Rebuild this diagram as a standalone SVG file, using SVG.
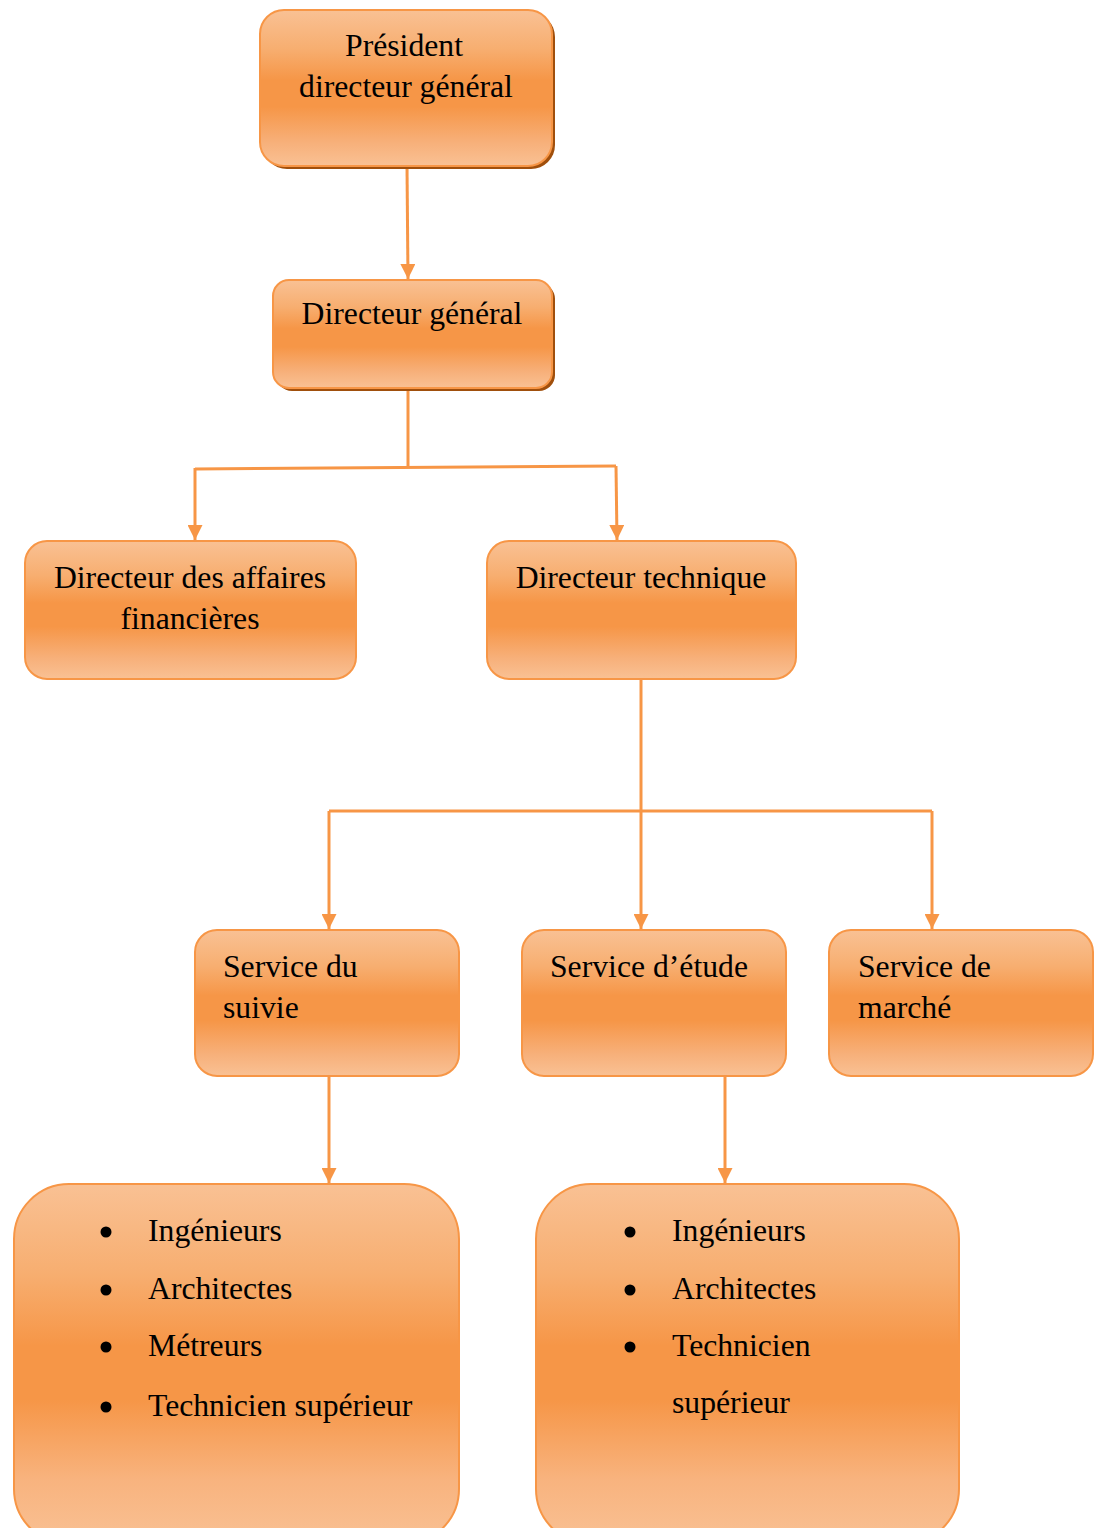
<svg xmlns="http://www.w3.org/2000/svg" width="1096" height="1528" viewBox="0 0 1096 1528">
<defs>
<linearGradient id="g" x1="0" y1="0" x2="0" y2="1">
<stop offset="0" stop-color="#F9C194"/>
<stop offset="0.25" stop-color="#F7AE70"/>
<stop offset="0.45" stop-color="#F69647"/>
<stop offset="0.62" stop-color="#F69647"/>
<stop offset="0.85" stop-color="#F7B07A"/>
<stop offset="1" stop-color="#F9C194"/>
</linearGradient>
<linearGradient id="g2" x1="0" y1="0" x2="0" y2="1">
<stop offset="0" stop-color="#F9C194"/>
<stop offset="0.25" stop-color="#F7AE70"/>
<stop offset="0.45" stop-color="#F69647"/>
<stop offset="0.6" stop-color="#F69647"/>
<stop offset="0.82" stop-color="#F8B37E"/>
<stop offset="1" stop-color="#F9C194"/>
</linearGradient>
<marker id="ah" viewBox="0 0 10 10" refX="10" refY="5" markerWidth="5" markerHeight="5" orient="auto" markerUnits="strokeWidth">
<path d="M0,0 L10,5 L0,10 z" fill="#F79646"/>
</marker>
</defs>
<style>
.box{fill:url(#g);stroke:#F79646;stroke-width:2}
.box2{fill:url(#g2);stroke:#F79646;stroke-width:2}
.sh{fill:#A04F0C}
.t{font-family:"Liberation Serif","Times New Roman",serif;font-size:31.7px;fill:#000}
.c{stroke:#F79646;stroke-width:3;fill:none}
.a{marker-end:url(#ah)}
</style>
<g id="connectors">
<path class="c a" d="M407,166 L408,279"/>
<path class="c" d="M408,388 L408,467"/>
<path class="c" d="M195,469 L616,466"/>
<path class="c a" d="M195,468 L195,540"/>
<path class="c a" d="M616,466 L617,540"/>
<path class="c a" d="M641,679 L641,929"/>
<path class="c" d="M329,811 L932,811"/>
<path class="c a" d="M329,811 L329,929"/>
<path class="c a" d="M932,811 L932,929"/>
<path class="c a" d="M329,1076 L329,1183"/>
<path class="c a" d="M725,1076 L725,1183"/>
</g>
<g id="pdg">
<rect class="sh" x="263" y="13" width="292" height="156" rx="24"/>
<rect class="box" x="260" y="10" width="292" height="156" rx="24"/>
<text class="t" x="404" y="56" text-anchor="middle">Président</text>
<text class="t" x="406" y="97" text-anchor="middle">directeur général</text>
</g>
<g id="dg">
<rect class="sh" x="276" y="283" width="279" height="108" rx="16"/>
<rect class="box" x="273" y="280" width="279" height="108" rx="16"/>
<text class="t" x="412" y="324" text-anchor="middle">Directeur général</text>
</g>
<g id="daf">
<rect class="box" x="25" y="541" width="331" height="138" rx="22"/>
<text class="t" x="190" y="588" text-anchor="middle">Directeur des affaires</text>
<text class="t" x="190" y="629" text-anchor="middle">financières</text>
</g>
<g id="dt">
<rect class="box" x="487" y="541" width="309" height="138" rx="22"/>
<text class="t" x="641" y="588" text-anchor="middle">Directeur technique</text>
</g>
<g id="suivie">
<rect class="box" x="195" y="930" width="264" height="146" rx="22"/>
<text class="t" x="223" y="977">Service du</text>
<text class="t" x="223" y="1018">suivie</text>
</g>
<g id="etude">
<rect class="box" x="522" y="930" width="264" height="146" rx="22"/>
<text class="t" x="550" y="977">Service d’étude</text>
</g>
<g id="marche">
<rect class="box" x="829" y="930" width="264" height="146" rx="22"/>
<text class="t" x="858" y="977">Service de</text>
<text class="t" x="858" y="1018">marché</text>
</g>
<g id="liste1">
<rect class="box2" x="14" y="1184" width="445" height="360" rx="55"/>
<circle cx="106" cy="1232" r="5.5"/>
<circle cx="106" cy="1290" r="5.5"/>
<circle cx="106" cy="1347" r="5.5"/>
<circle cx="106" cy="1407" r="5.5"/>
<text class="t" x="148" y="1241">Ingénieurs</text>
<text class="t" x="148" y="1299">Architectes</text>
<text class="t" x="148" y="1356">Métreurs</text>
<text class="t" x="148" y="1416">Technicien supérieur</text>
</g>
<g id="liste2">
<rect class="box2" x="536" y="1184" width="423" height="360" rx="55"/>
<circle cx="630" cy="1232" r="5.5"/>
<circle cx="630" cy="1290" r="5.5"/>
<circle cx="630" cy="1347" r="5.5"/>
<text class="t" x="672" y="1241">Ingénieurs</text>
<text class="t" x="672" y="1299">Architectes</text>
<text class="t" x="672" y="1356">Technicien</text>
<text class="t" x="672" y="1413">supérieur</text>
</g>
</svg>
